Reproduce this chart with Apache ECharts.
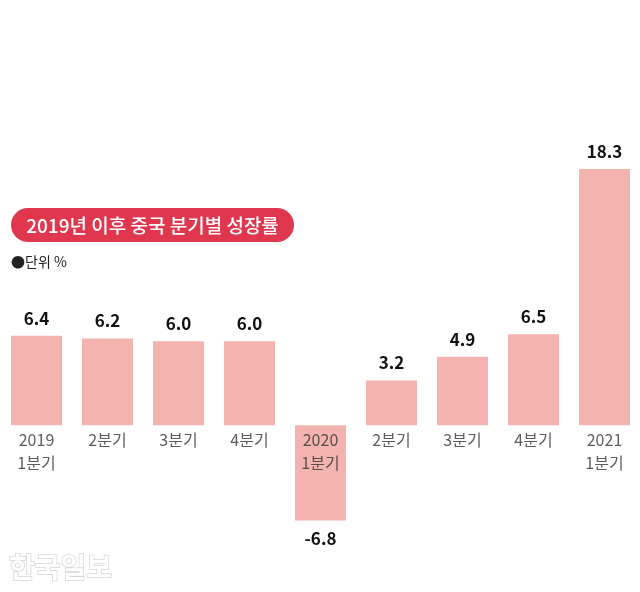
<!DOCTYPE html>
<html>
<head>
<meta charset="utf-8">
<script src="https://cdn.jsdelivr.net/npm/echarts@6/dist/echarts.min.js"></script>
<style>
html,body{margin:0;padding:0;background:#fff;}
#chart{width:640px;height:592px;}
</style>
</head>
<body>
<div id="chart"></div>
<script>
const categories = ['2019\n1분기','2분기','3분기','4분기','2020\n1분기','2분기','3분기','4분기','2021\n1분기'];
const growth = [6.4, 6.2, 6.0, 6.0, -6.8, 3.2, 4.9, 6.5, 18.3];
const titleText = '2019년 이후 중국 분기별 성장률';
const unitText = '●단위 %';
const sourceText = '한국일보';

const FONT = '"Noto Sans CJK KR", "Noto Sans", sans-serif';
const chart = echarts.init(document.getElementById('chart'), null, {renderer: 'canvas'});

const seriesData = growth.map(v => ({
  value: v,
  label: { position: v < 0 ? 'bottom' : 'top' }
}));
// category names drawn at the zero line of the value axis
const baselineData = categories.map((c, i) => [i, 0]);

chart.setOption({
  animation: false,
  backgroundColor: '#ffffff',
  grid: { left: 1, right: 0, top: 5, bottom: 0, containLabel: false, outerBoundsMode: 'none' },
  xAxis: {
    type: 'category',
    data: categories,
    axisLine: { show: false },
    axisTick: { show: false },
    splitLine: { show: false },
    axisLabel: { show: false }
  },
  yAxis: {
    type: 'value',
    min: -11.9,
    max: 30,
    show: false,
    splitLine: { show: false }
  },
  series: [{
    type: 'bar',
    data: seriesData,
    barWidth: 51,
    itemStyle: { color: '#f3b3ae' },
    label: {
      show: true,
      distance: 9,
      fontSize: 17,
      fontWeight: 'bold',
      color: '#111111',
      fontFamily: FONT,
      formatter: p => Number(p.value).toFixed(1)
    }
  }, {
    type: 'scatter',
    data: baselineData,
    symbolSize: 0,
    z: 10,
    silent: true,
    label: {
      show: true,
      position: 'bottom',
      distance: 3,
      fontSize: 16,
      lineHeight: 23,
      color: '#333333',
      fontFamily: FONT,
      formatter: p => categories[p.dataIndex]
    }
  }],
  graphic: [
    {
      type: 'rect',
      x: 11, y: 208,
      shape: { width: 283, height: 34, r: 17 },
      style: { fill: '#e0374f' },
      z: 20
    },
    {
      type: 'text',
      x: 152.5, y: 226,
      z: 21,
      style: {
        text: titleText,
        align: 'center',
        verticalAlign: 'middle',
        fill: '#ffffff',
        fontSize: 19,
        fontWeight: 500,
        fontFamily: FONT
      }
    },
    {
      type: 'text',
      x: 11, y: 262,
      z: 21,
      style: {
        text: unitText,
        verticalAlign: 'middle',
        fill: '#222222',
        fontSize: 14,
        fontFamily: FONT
      }
    },
    {
      type: 'text',
      x: 9, y: 567,
      z: 21,
      style: {
        text: sourceText,
        verticalAlign: 'middle',
        fill: '#ffffff',
        stroke: '#d6d6d6',
        lineWidth: 1.5,
        fontSize: 28,
        fontWeight: 'bold',
        fontFamily: FONT
      }
    }
  ]
});
</script>
</body>
</html>
